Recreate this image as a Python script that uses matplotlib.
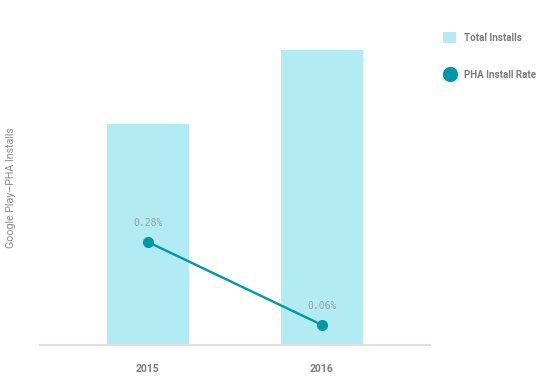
import matplotlib
matplotlib.use("Agg")
import matplotlib.pyplot as plt
from matplotlib.lines import Line2D
from matplotlib.patches import Patch

years = ["2015", "2016"]
total_installs = [22.1, 29.5]       # relative units (no axis ticks shown)
pha_rate = [0.28, 0.06]             # percent
rate_labels = ["0.28%", "0.06%"]

bar_color = "#b2ebf2"
line_color = "#0097a7"
text_color = "#7a7a7a"

fig = plt.figure(figsize=(5.45, 3.87), dpi=100)
ax = fig.add_axes([40/545, 1-345/387, 390/545, 315/387])
x = list(range(len(years)))
ax.bar(x, total_installs, width=0.47, color=bar_color, zorder=1)
ax.set_xlim(-0.62, 1.62)
ax.set_ylim(0, 31.5)
for s in ["top", "right", "left"]:
    ax.spines[s].set_visible(False)
ax.spines["bottom"].set_color("#e0e0e0")
ax.spines["bottom"].set_linewidth(1.5)
ax.set_yticks([])
ax.set_xticks(x)
ax.set_xticklabels(years, fontfamily="Roboto", fontweight="bold", fontsize=7.5, color=text_color)
ax.tick_params(axis="x", length=0, pad=14)
ax.set_ylabel("Google Play–PHA Installs", fontfamily="Roboto", fontsize=7.7, color="#8a8a8a", labelpad=17)

ax2 = ax.twinx()
ax2.plot(x, pha_rate, color=line_color, lw=1.7, marker="o", markersize=7, zorder=3)
ax2.set_ylim(0.0069, 0.842)
ax2.set_yticks([])
for s in ax2.spines.values():
    s.set_visible(False)
for xi, v, lab in zip(x, pha_rate, rate_labels):
    ax2.annotate(lab, (xi, v), xytext=(0, 10), textcoords="offset points",
                 ha="center", va="bottom", fontfamily="DejaVu Sans Mono",
                 fontsize=7, color="#9e9e9e")

handles = [Patch(facecolor=bar_color, edgecolor="none"),
           Line2D([], [], color=line_color, marker="o", linestyle="none", markersize=10)]
leg = fig.legend(handles, ["Total Installs", "PHA Install Rate"],
                 loc="upper left", bbox_to_anchor=(434/545, 1-23/387),
                 frameon=False, labelspacing=2.7, handlelength=1.4, handleheight=1.4,
                 handletextpad=0.8,
                 prop={"family": "Roboto", "weight": "bold", "size": 7})
for t in leg.get_texts():
    t.set_color(text_color)

fig.savefig("out.png", dpi=100)
